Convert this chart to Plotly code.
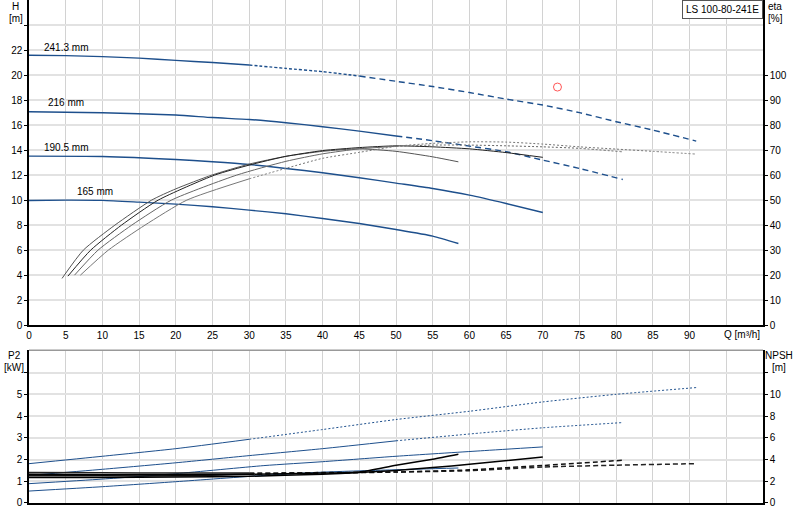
import plotly.graph_objects as go

# ---------------- data ----------------
# Head curves H [m] vs Q [m3/h] for four impeller diameters
Q_241 = [0, 5, 10, 15, 20, 25, 30, 35, 40, 45, 50, 55, 60, 65, 70, 75, 80, 85, 90.9]
H_241 = [21.58, 21.55, 21.47, 21.35, 21.17, 21.0, 20.8, 20.53, 20.27, 19.92, 19.5, 19.08, 18.6, 18.08, 17.6, 16.99, 16.27, 15.6, 14.72]
Q_216 = [0, 10, 20, 25, 30, 35, 40, 45, 50, 55, 60, 65, 70, 75, 80.9]
H_216 = [17.07, 16.99, 16.8, 16.6, 16.45, 16.19, 15.87, 15.52, 15.13, 14.75, 14.32, 13.87, 13.2, 12.53, 11.65]
Q_190 = [0, 10, 20, 25, 30, 35, 40, 45, 50, 55, 60, 65, 70]
H_190 = [13.52, 13.49, 13.25, 13.07, 12.85, 12.53, 12.19, 11.79, 11.36, 10.93, 10.4, 9.73, 9.01]
Q_165 = [0, 5, 10, 15, 20, 25, 30, 35, 40, 45, 50, 55, 58.5]
H_165 = [9.97, 10.0, 9.98, 9.84, 9.68, 9.47, 9.2, 8.91, 8.53, 8.13, 7.65, 7.12, 6.53]
diam_labels = ["241.3 mm", "216 mm", "190.5 mm", "165 mm"]

# Efficiency curves eta [%]
Qe_165 = [4.5, 7.4, 11.7, 16.7, 20, 24.9, 30, 35, 40, 45, 50, 55, 58.5]
E_165 = [18.7, 30, 40, 50, 54.5, 60, 64.4, 67.5, 69.5, 70.5, 69.5, 67.3, 65.3]
Qe_190 = [5.3, 8.4, 12.6, 17.6, 25.3, 30, 35, 40, 45, 50, 55, 60, 65, 70]
E_190 = [19.6, 30, 40, 50, 60, 64, 67.5, 69.8, 71, 71.7, 71.3, 70.5, 69, 67.1]
Qe_216 = [6.2, 9.4, 14, 19.4, 28.3, 35, 40, 45, 50, 55, 60, 65, 70, 75, 80.9]
E_216 = [20, 30, 40, 50, 60, 65.5, 68.5, 70.5, 71.5, 72, 72, 71.7, 71.3, 70.7, 69.3]
Qe_241 = [7.0, 10.8, 15.8, 21.5, 30, 35, 40, 45, 50, 55, 60, 65, 70, 75, 80, 85, 90.9]
E_241 = [20, 30, 40, 50, 58.5, 62.7, 66.7, 69.1, 71.5, 72.7, 73.3, 73.2, 72.4, 71.3, 70.4, 69.5, 68.4]

# Duty point
Q_duty = [72.0]
H_duty = [19.04]

# Power P2 [kW]
Qp_241 = [0, 10, 20, 30, 40, 50, 60, 70, 80, 90.9]
P_241 = [1.81, 2.15, 2.5, 2.93, 3.38, 3.84, 4.22, 4.65, 5.0, 5.31]
Qp_216 = [0, 10, 20, 30, 40, 50, 61.5, 70, 80.9]
P_216 = [1.27, 1.55, 1.85, 2.18, 2.5, 2.86, 3.22, 3.46, 3.7]
Qp_190 = [0, 10, 20, 32, 40, 50, 61.5, 70]
P_190 = [0.89, 1.1, 1.35, 1.72, 1.9, 2.15, 2.4, 2.58]
Qp_165 = [0, 10, 20, 32, 40, 50, 58.5]
P_165 = [0.55, 0.75, 0.98, 1.27, 1.42, 1.53, 1.61]

# NPSH [m]
Qn_241 = [0, 10, 20, 30, 40, 50, 60, 70, 80, 90.9]
N_241 = [2.8, 2.78, 2.75, 2.75, 2.8, 2.85, 2.97, 3.31, 3.48, 3.62]
Qn_216 = [0, 10, 20, 30, 40, 50, 60, 70, 80.8]
N_216 = [2.5, 2.5, 2.5, 2.65, 2.75, 2.85, 3.05, 3.45, 3.93]
Qn_190 = [0, 10, 20, 30, 40, 45, 50, 55, 60, 70]
N_190 = [2.35, 2.35, 2.4, 2.46, 2.65, 2.8, 3.0, 3.26, 3.56, 4.23]
Qn_165 = [0, 10, 20, 30, 40, 45, 50, 55, 58.5]
N_165 = [2.65, 2.6, 2.6, 2.65, 2.75, 2.85, 3.47, 4.02, 4.48]

x_ticks = list(range(0, 95, 5))
H_ticks = list(range(0, 26, 2))
E_ticks = list(range(0, 110, 10))
P_ticks = list(range(0, 7, 1))
N_ticks = list(range(0, 14, 2))
model_name = "LS 100-80-241E"

# ---------------- figure ----------------
BLUE = "#1d4f8c"
FONT = "Liberation Sans, Arial, sans-serif"
W, HGT = 800, 520
ML, MR, MT, MB = 29, 37, 0, 17
fig = go.Figure()


def seg(q, v, i0, i1, color, width, dash, xa, ya):
    fig.add_trace(go.Scatter(x=q[i0:i1], y=v[i0:i1], mode="lines",
                             line=dict(color=color, width=width, dash=dash, shape="spline", smoothing=0.6),
                             xaxis=xa, yaxis=ya, showlegend=False, hoverinfo="skip"))


def split(q, v, qs, color, width, dash1, dash2, xa, ya, qs2=None, dash3=None):
    k = q.index(qs)
    if qs2 is None:
        seg(q, v, 0, k + 1, color, width, dash1, xa, ya)
        seg(q, v, k, len(q), color, width, dash2, xa, ya)
    else:
        k2 = q.index(qs2)
        seg(q, v, 0, k + 1, color, width, dash1, xa, ya)
        seg(q, v, k, k2 + 1, color, width, dash2, xa, ya)
        seg(q, v, k2, len(q), color, width, dash3, xa, ya)


# Head curves
split(Q_241, H_241, 30, BLUE, 1.4, "solid", "3px,2px", "x", "y", 45, "6px,4px")
split(Q_216, H_216, 50, BLUE, 1.4, "solid", "6px,4px", "x", "y")
seg(Q_190, H_190, 0, len(Q_190), BLUE, 1.4, "solid", "x", "y")
seg(Q_165, H_165, 0, len(Q_165), BLUE, 1.4, "solid", "x", "y")

# Efficiency curves (right axis)
seg(Qe_165, E_165, 0, len(Qe_165), "#555555", 1.0, "solid", "x", "y2")
seg(Qe_190, E_190, 0, len(Qe_190), "#222222", 1.0, "solid", "x", "y2")
split(Qe_216, E_216, 50, "#666666", 1.0, "solid", "2px,2px", "x", "y2")
split(Qe_241, E_241, 30, "#777777", 1.0, "solid", "2px,2px", "x", "y2")

# Duty point
fig.add_trace(go.Scatter(x=Q_duty, y=H_duty, mode="markers",
                         marker=dict(symbol="circle-open", size=8, color="#ff5555", line=dict(width=1)),
                         xaxis="x", yaxis="y", showlegend=False, hoverinfo="skip"))

# P2 curves
split(Qp_241, P_241, 30, BLUE, 1.0, "solid", "2px,2px", "x2", "y3")
split(Qp_216, P_216, 50, BLUE, 1.0, "solid", "2px,2px", "x2", "y3")
seg(Qp_190, P_190, 0, len(Qp_190), BLUE, 1.0, "solid", "x2", "y3")
seg(Qp_165, P_165, 0, len(Qp_165), BLUE, 1.0, "solid", "x2", "y3")

# NPSH curves
split(Qn_241, N_241, 30, "#222222", 1.5, "solid", "5px,3px", "x2", "y4")
split(Qn_216, N_216, 30, "#111111", 1.5, "solid", "5px,3px", "x2", "y4")
seg(Qn_190, N_190, 0, len(Qn_190), "#000000", 1.5, "solid", "x2", "y4")
seg(Qn_165, N_165, 0, len(Qn_165), "#000000", 1.5, "solid", "x2", "y4")

tickfont = dict(family=FONT, size=10, color="#000000")
common_x = dict(range=[0, 100], showgrid=True, gridcolor="#d2d2d2", gridwidth=1,
                tickmode="array", tickvals=x_ticks + [95], zeroline=False,
                showline=True, linecolor="#000000", linewidth=1.5, tickfont=tickfont, ticks="",
                automargin=False)

fig.update_layout(
    width=W, height=HGT,
    margin=dict(l=ML, r=MR, t=MT, b=MB),
    paper_bgcolor="white", plot_bgcolor="white",
    font=dict(family=FONT, size=10, color="#000000"),
    xaxis=dict(common_x, domain=[0, 1], anchor="y",
               ticktext=[str(v) for v in x_ticks] + [""]),
    yaxis=dict(domain=[0.3535, 1], range=[0, 26], tickmode="array",
               tickvals=H_ticks, ticktext=[str(v) for v in H_ticks[:-1]] + [""],
               showgrid=True, gridcolor="#e2e2e2", gridwidth=2, zeroline=False,
               showline=True, linecolor="#000000", linewidth=1.5, automargin=False,
               ticks="outside", ticklen=3, tickcolor="#000000", tickfont=tickfont),
    yaxis2=dict(overlaying="y", side="right", range=[0, 130], tickmode="array",
                tickvals=E_ticks, showgrid=False, zeroline=False, automargin=False,
                showline=True, linecolor="#000000", linewidth=1.5,
                ticks="outside", ticklen=3, tickcolor="#000000", tickfont=tickfont, anchor="x"),
    xaxis2=dict(common_x, domain=[0, 1], anchor="y3",
                ticktext=["" for _ in x_ticks] + [""]),
    yaxis3=dict(domain=[0, 0.3038], range=[0, 7.03], tickmode="array",
                tickvals=P_ticks, ticktext=[str(v) for v in P_ticks[:-1]] + [""],
                showgrid=True, gridcolor="#e2e2e2", gridwidth=2, zeroline=False,
                showline=True, linecolor="#000000", linewidth=1.5, automargin=False,
                ticks="outside", ticklen=3, tickcolor="#000000", tickfont=tickfont),
    yaxis4=dict(overlaying="y3", side="right", range=[0, 14.06], tickmode="array",
                tickvals=N_ticks, ticktext=[str(v) for v in N_ticks[:-1]] + [""],
                showgrid=False, zeroline=False, automargin=False,
                showline=True, linecolor="#000000", linewidth=1.5,
                ticks="outside", ticklen=3, tickcolor="#000000", tickfont=tickfont, anchor="x2"),
)

# top border of lower plot
fig.add_shape(type="line", xref="x2 domain", yref="y3 domain", x0=0, x1=1, y0=1, y1=1,
              line=dict(color="#999999", width=1.5))

ann = []
# diameter labels
lab_pos = [(5.0, 22.2), (5.0, 17.8), (5.0, 14.2), (9.0, 10.65)]
for t, (qx, hy) in zip(diam_labels, lab_pos):
    ann.append(dict(x=qx, y=hy, xref="x", yref="y", text=t, showarrow=False,
                    font=dict(family=FONT, size=10, color="#000000")))
# x-axis quantity label
ann.append(dict(x=97.2, y=0, xref="x", yref="y", yshift=-9, text="Q [m³/h]", showarrow=False,
                font=dict(family=FONT, size=10, color="#000000")))
# axis titles (positions in pixels converted to paper coordinates)
pw, ph = W - ML - MR, HGT - MT - MB
for txt, px, py in [("H", 16, 6), ("[m]", 16, 18), ("eta", 775, 6), ("[%]", 775, 18),
                    ("P2", 14, 356), ("[kW]", 14, 367), ("NPSH", 779, 356), ("[m]", 779, 367)]:
    ann.append(dict(x=(px - ML) / pw, y=(HGT - MB - py) / ph, xref="paper", yref="paper", text=txt,
                    showarrow=False, xanchor="center", yanchor="middle",
                    font=dict(family=FONT, size=10, color="#000000")))
# model box
ann.append(dict(x=100, y=26, xref="x", yref="y", xanchor="right", yanchor="top", text=model_name,
                showarrow=False, bordercolor="#555555", borderwidth=1, borderpad=3, bgcolor="white",
                font=dict(family=FONT, size=10, color="#000000")))
fig.update_layout(annotations=ann)

fig.write_html("out.html", config={"displayModeBar": False},
               post_script="document.body.style.margin='0';document.body.style.padding='0';")
